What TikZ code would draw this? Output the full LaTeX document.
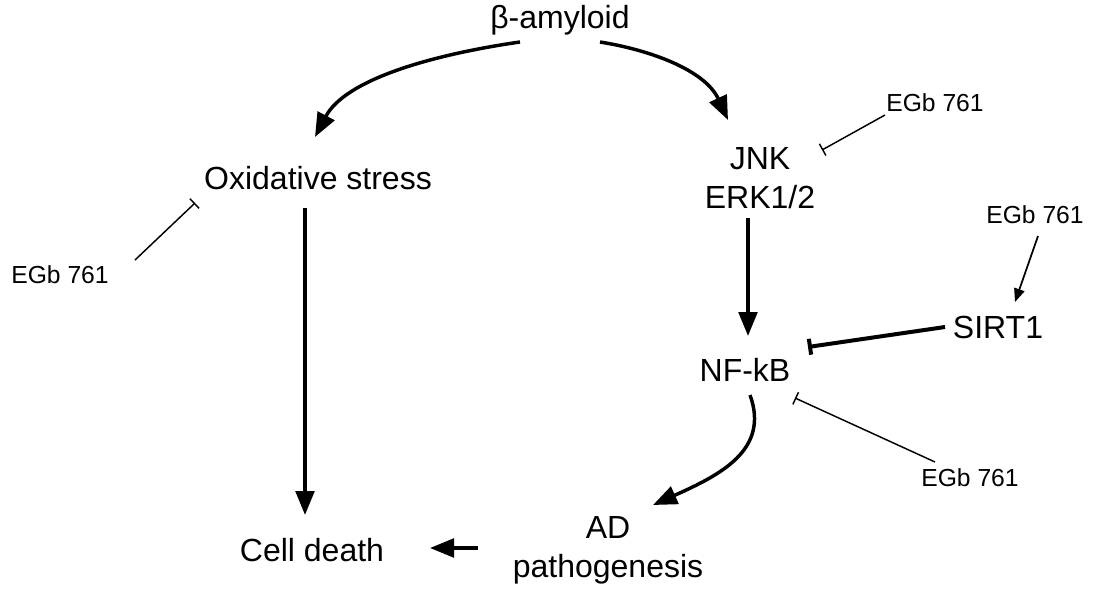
\documentclass[tikz,border=0pt]{standalone}
\usepackage{fontspec}
\setmainfont{Liberation Sans}
\usetikzlibrary{arrows.meta}
\begin{document}
\begin{tikzpicture}[x=0.75pt,y=-0.75pt,
 lab/.style={font=\fontsize{24}{29}\selectfont,align=center,inner sep=0pt},
 egb/.style={font=\fontsize{18.5}{22}\selectfont,inner sep=0pt},
 act/.style={line width=2.6pt,-{Triangle[length=18pt,width=14pt]}},
 thin act/.style={line width=1.3pt,-{Triangle[length=10pt,width=8pt]}},
 inh/.style={line width=1.1pt,-{Bar[width=10pt]}},
 thick inh/.style={line width=3pt,-{Bar[width=12pt]}}]
\useasboundingbox (0,0) rectangle (1099,599);
\node[lab] (ba) at (560,20) {β-amyloid};
\node[lab] (ox) at (318,178) {Oxidative stress};
\node[lab] (jnk) at (760,178) {JNK\\ERK1/2};
\node[lab] (nfkb) at (745,370) {NF-kB};
\node[lab] (sirt) at (998,327) {SIRT1};
\node[lab] (ad) at (608,550) {AD\\pathogenesis};
\node[lab] (cd) at (312,550) {Cell death};
\node[egb] (e1) at (935,103) {EGb 761};
\node[egb] (e2) at (60,275) {EGb 761};
\node[egb] (e3) at (1035,215) {EGb 761};
\node[egb] (e4) at (970,478) {EGb 761};
\coordinate (s1) at (520,42); \coordinate (c1) at (315,137);
\coordinate (s2) at (600,42); \coordinate (c2) at (728,120);
\coordinate (s3) at (305,208); \coordinate (t3) at (305,515);
\coordinate (s4) at (748,218); \coordinate (t4) at (748,336);
\coordinate (s5) at (750,395); \coordinate (t5) at (653,505);
\coordinate (s6) at (478,548); \coordinate (t6) at (430,548);
\draw[act] (s1) .. controls (430,55) and (345,80) .. (c1);
\draw[act] (s2) .. controls (650,50) and (705,70) .. (c2);
\draw[act] (s3) -- (t3);
\draw[act] (s4) -- (t4);
\draw[act] (s5) .. controls (770,450) and (720,475) .. (t5);
\draw[act] (s6) -- (t6);
\coordinate (a1) at (885,115); \coordinate (b1) at (822,150);
\coordinate (a2) at (135,260); \coordinate (b2) at (195,203);
\coordinate (a3) at (945,327); \coordinate (b3) at (808,347);
\coordinate (a4) at (1038,236); \coordinate (b4) at (1015,302);
\coordinate (a5) at (935,462); \coordinate (b5) at (795,398);
\draw[inh] (a1) -- (b1);
\draw[inh] (a2) -- (b2);
\draw[thick inh] (a3) -- (b3);
\draw[thin act] (a4) -- (b4);
\draw[inh] (a5) -- (b5);
\end{tikzpicture}
\end{document}
